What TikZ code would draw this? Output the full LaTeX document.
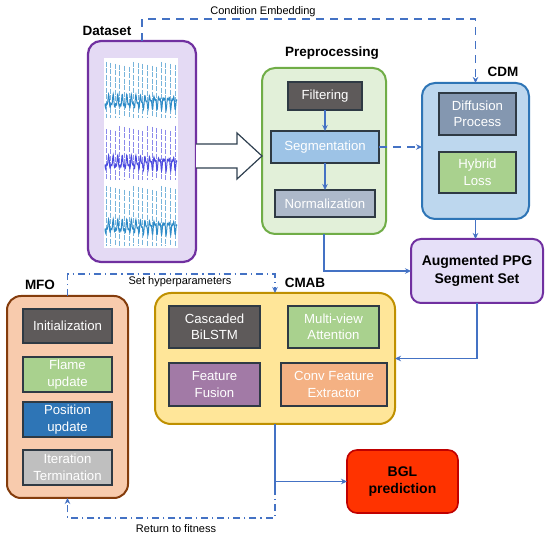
\documentclass[tikz,border=0pt]{standalone}
\usepackage{fontspec}
\setmainfont{Liberation Sans}
\usetikzlibrary{arrows.meta,calc}
\definecolor{lineblue}{HTML}{4472C4}
\definecolor{innerborder}{HTML}{2F3A44}
\definecolor{dsborder}{HTML}{7030A0}
\definecolor{dsfill}{HTML}{E4DAF4}
\definecolor{ppborder}{HTML}{70AD47}
\definecolor{ppfill}{HTML}{E2F0D9}
\definecolor{cdmborder}{HTML}{2E75B6}
\definecolor{cdmfill}{HTML}{BDD7EE}
\definecolor{augfill}{HTML}{E6E0F8}
\definecolor{cmabborder}{HTML}{BF9000}
\definecolor{cmabfill}{HTML}{FFE699}
\definecolor{mfoborder}{HTML}{843C0C}
\definecolor{mfofill}{HTML}{F8CBAD}
\definecolor{dgray}{HTML}{5E5A5A}
\definecolor{segblue}{HTML}{9DC3E6}
\definecolor{normgray}{HTML}{ADB9CA}
\definecolor{diffblue}{HTML}{8497B0}
\definecolor{lgreen}{HTML}{A9D18E}
\definecolor{fpurple}{HTML}{A27AA6}
\definecolor{corange}{HTML}{F4B183}
\definecolor{pblue}{HTML}{2E75B6}
\definecolor{itgray}{HTML}{BFBFBF}
\definecolor{bglred}{HTML}{FF3300}
\definecolor{bglborder}{HTML}{C00000}
\definecolor{wave1}{HTML}{2E8BC8}
\definecolor{wave2}{HTML}{4B4BE0}
\definecolor{arrowslate}{HTML}{2F4050}
\begin{document}
\begin{tikzpicture}[x=1pt,y=-1pt,
  outer/.style={draw, line width=2pt, rounded corners=13pt, inner sep=0pt, outer sep=0pt},
  inner/.style={draw=innerborder, line width=1.3pt, inner sep=0pt, outer sep=0pt, text=white, align=center, font=\fontsize{13.2}{16.5}\selectfont},
  sect/.style={font=\fontsize{13.5}{15}\selectfont\bfseries},
  smalltext/.style={font=\fontsize{11}{13}\selectfont},
  conn/.style={draw=lineblue, line width=1.6pt, -{Stealth[length=6pt,width=5.5pt]}},
  plainconn/.style={draw=lineblue, line width=1.6pt},
  dashconn/.style={conn, dash pattern=on 8pt off 6pt},
  dotconn/.style={conn, dash pattern=on 7pt off 4pt on 1.2pt off 4pt}]
\useasboundingbox (0,0) rectangle (550,540);

% Dataset
\node[outer, draw=dsborder, fill=dsfill, line width=2.2pt, minimum width=108pt, minimum height=221pt] (ds) at (142,151.5) {};
\node[sect] (dslab) at (107,31) {Dataset};
\fill[white] (104,58) rectangle (178,248);
\foreach \p/\top/\bot/\mid/\col in {0/62/118/102/wave1, 1/126/180/163/wave2, 2/186/246/227/wave1}{
  \foreach \i in {0,...,15}{
    \pgfmathsetmacro{\xx}{106+4.6*\i}
    \pgfmathsetmacro{\tt}{\top+mod(\i*7+\p*3,6)}
    \draw[\col!65, line width=0.7pt, dash pattern=on 5pt off 1.5pt] (\xx,\tt) -- (\xx,\bot);
  }
  \draw[\col, line width=1pt] plot[domain=0:72, samples=220, smooth] ({105+\x}, {\mid + 5*sin(\x*78) + 3*sin(\x*160+30)});
}

% Preprocessing
\node[outer, draw=ppborder, fill=ppfill, minimum width=124pt, minimum height=166pt] (pp) at (324,151) {};
\node[sect] (pplab) at (332,53) {Preprocessing};
\node[inner, fill=dgray, minimum width=74pt, minimum height=28pt] (filt) at (325,96) {Filtering};
\node[inner, fill=segblue, minimum width=108pt, minimum height=32pt] (seg) at (325,147) {Segmentation};
\node[inner, fill=normgray, minimum width=100pt, minimum height=27pt] (norm) at (325,203.5) {Normalization};

% CDM
\node[outer, draw=cdmborder, fill=cdmfill, minimum width=107pt, minimum height=136pt] (cdm) at (475.5,151) {};
\node[sect] (cdmlab) at (503,72) {CDM};
\node[inner, fill=diffblue, minimum width=77pt, minimum height=42pt] (diff) at (477.5,114) {Diffusion\\Process};
\node[inner, fill=lgreen, minimum width=77pt, minimum height=41pt] (hyb) at (477.5,172.5) {Hybrid\\Loss};

% Augmented
\node[outer, draw=dsborder, fill=augfill, rounded corners=10pt, minimum width=132pt, minimum height=64pt, align=center, font=\fontsize{14}{17.5}\selectfont\bfseries] (aug) at (477,271) {Augmented PPG\\Segment Set};

% CMAB
\node[outer, draw=cmabborder, fill=cmabfill, rounded corners=16pt, minimum width=240pt, minimum height=131pt] (cmab) at (275,358.5) {};
\node[sect] (cmablab) at (305,283) {CMAB};
\node[inner, fill=dgray, minimum width=91pt, minimum height=42pt] (casc) at (214.5,327) {Cascaded\\BiLSTM};
\node[inner, fill=lgreen, minimum width=91pt, minimum height=42pt] (mva) at (333.5,327) {Multi-view\\Attention};
\node[inner, fill=fpurple, minimum width=91pt, minimum height=43pt] (ff) at (214.5,384.5) {Feature\\Fusion};
\node[inner, fill=corange, minimum width=106pt, minimum height=43pt] (conv) at (334,384.5) {Conv Feature\\Extractor};

% BGL
\node[outer, draw=bglborder, fill=bglred, rounded corners=10pt, line width=1.6pt, minimum width=111pt, minimum height=63pt, align=center, font=\fontsize{14}{17.5}\selectfont\bfseries] (bgl) at (402.5,481.5) {BGL\\prediction};

% MFO
\node[outer, draw=mfoborder, fill=mfofill, rounded corners=14pt, minimum width=121pt, minimum height=202pt] (mfo) at (67.5,397) {};
\node[sect] (mfolab) at (40,285) {MFO};
\node[inner, fill=dgray, minimum width=89pt, minimum height=34pt] (init) at (67.5,326) {Initialization};
\node[inner, fill=lgreen, minimum width=89pt, minimum height=35pt] (flame) at (67.5,374.5) {Flame\\update};
\node[inner, fill=pblue, minimum width=89pt, minimum height=35pt] (pos) at (67.5,419.5) {Position\\update};
\node[inner, fill=itgray, minimum width=89pt, minimum height=35pt] (iter) at (67.5,467.5) {Iteration\\Termination};

% Hollow arrow Dataset -> Preprocessing
\draw[draw=arrowslate, line width=1.2pt, fill=white] (ds.east |- 0,144) -- (237,144) -- (237,133) -- (pp.west |- 0,156) -- (237,179) -- (237,168) -- (ds.east |- 0,168);

% Connectors
\coordinate (ce) at (300,19);
\draw[dashconn] (ds.north) |- (ce) -| (cdm.north);
\node[smalltext] (celab) at (263,12) {Condition Embedding};

\draw[conn] (filt) -- (seg);
\draw[conn] (seg) -- (norm);
\draw[dashconn] (seg.east) -- (seg.east -| cdm.west);
\draw[conn] (cdm.south) -- (cdm.south |- aug.north);
\draw[conn] (pp.south) |- (aug.west);
\draw[conn] (aug.south) |- (cmab.east);

\coordinate (sh) at (275,274);
\draw[dotconn] (mfo.north) |- (sh) -- (cmab.north);
\node[smalltext] (shlab) at (180,282) {Set hyperparameters};

\coordinate (jn) at (275,488);
\coordinate (br) at (275,518);
\coordinate (bl) at (67.5,518);
\draw[plainconn] (cmab.south) -- (jn);
\draw[conn] (cmab.south |- bgl.west) -- (bgl.west);
\draw[dotconn] (jn) -- (br) -- (bl) -- (mfo.south);
\node[smalltext] (rflab) at (176,529) {Return to fitness};
\end{tikzpicture}
\end{document}
